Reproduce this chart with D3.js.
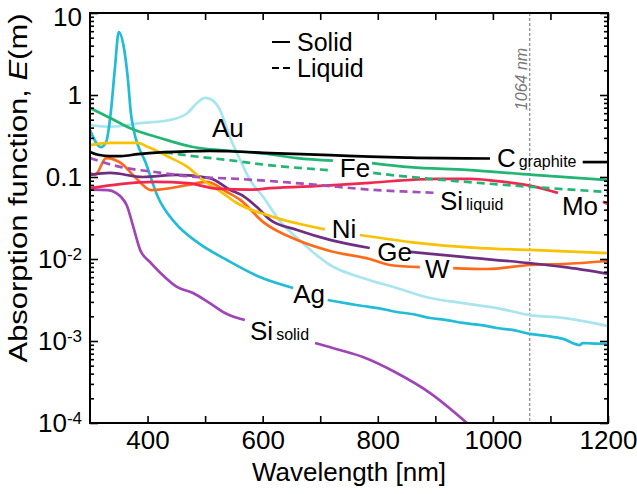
<!DOCTYPE html>
<html><head><meta charset="utf-8">
<script src="https://cdn.jsdelivr.net/npm/d3@7"></script>
<style>
body{margin:0;background:#fff}
text{font-family:"Liberation Sans",Arial,Helvetica,sans-serif}
</style>
</head><body>
<svg id="c" width="637" height="494"></svg>
<script>
// ---------- data (wavelength nm, E(m)) ----------
const xTickValues = [400,500,600,700,800,900,1000,1100,1200];
const xTickLabels = [400,600,800,1000,1200];
const yDecades = [1e-4,1e-3,1e-2,1e-1,1,10];
const yTickLabels = [["10","-4"],["10","-3"],["10","-2"],["0.1",""],["1",""],["10",""]];
const laserWavelength = 1064;

const ag = [[300,0.374],[319,0.232],[328,0.267],[336,0.60],[343,2.02],[350,5.86],[359,3.74],[366,1.52],[371,0.60],[376,0.374],[397,0.148],[418,0.057],[448,0.0275],[488,0.0157],[538,0.00972],[595,0.00603],[653,0.00443],[713,0.00316],[774,0.00267],[800,0.00252],[833,0.00226],[862,0.00212],[891,0.00191],[920,0.00180],[948,0.00166],[980,0.00156],[1007,0.00144],[1040,0.00134],[1064,0.00122],[1095,0.00115],[1122,0.00106],[1151,0.000893],[1156,0.000946],[1180,0.000930],[1200,0.000919]];
const au = [[300,0.43],[335,0.41],[392,0.456],[439,0.496],[469,0.60],[486,0.80],[500,0.92],[512,0.87],[526,0.656],[543,0.308],[561,0.161],[578,0.092],[601,0.057],[630,0.029],[660,0.018],[687,0.0122],[717,0.00845],[774,0.00586],[833,0.00443],[891,0.00334],[948,0.0029],[1007,0.00252],[1064,0.00207],[1122,0.00191],[1200,0.00152]];
const feSolid = [[300,0.693],[335,0.525],[369,0.397],[422,0.299],[479,0.232],[538,0.210],[601,0.194],[660,0.170],[722,0.158],[790,0.148],[856,0.132],[955,0.122],[1070,0.106],[1200,0.0918]];
const feLiquid = [[430,0.20],[470,0.183],[543,0.160],[601,0.142],[717,0.121],[792,0.112],[856,0.100],[955,0.087],[1070,0.0755],[1200,0.0656]];
const cGraphite = [[300,0.202],[314,0.187],[335,0.180],[354,0.180],[383,0.190],[422,0.200],[470,0.205],[508,0.208],[543,0.206],[613,0.196],[717,0.185],[786,0.177],[856,0.172],[995,0.168],[1156,0.152],[1200,0.152]];
const siLiquid = [[300,0.170],[354,0.132],[413,0.115],[470,0.102],[555,0.095],[670,0.083],[729,0.076],[786,0.070],[856,0.066],[903,0.064]];
const mo = [[300,0.073],[352,0.082],[413,0.087],[470,0.084],[520,0.072],[578,0.070],[613,0.073],[717,0.079],[786,0.085],[903,0.095],[960,0.095],[1020,0.087],[1070,0.077],[1113,0.064],[1191,0.050],[1200,0.047]];
const ni = [[300,0.245],[335,0.26],[382,0.26],[401,0.232],[441,0.17],[470,0.132],[496,0.0918],[528,0.0656],[555,0.0482],[613,0.0334],[708,0.023],[769,0.0196],[856,0.0161],[978,0.0136],[1064,0.0129],[1200,0.0118]];
const ge = [[300,0.106],[335,0.112],[392,0.100],[451,0.106],[508,0.097],[543,0.070],[569,0.057],[590,0.043],[613,0.030],[660,0.0226],[717,0.0171],[786,0.0136],[856,0.0122],[948,0.0106],[1064,0.0089],[1122,0.0080],[1200,0.0066]];
const w = [[300,0.112],[309,0.106],[328,0.170],[354,0.148],[378,0.100],[406,0.0693],[441,0.0734],[470,0.080],[503,0.087],[538,0.0656],[561,0.0525],[601,0.0282],[660,0.0170],[717,0.0125],[786,0.0100],[821,0.00845],[873,0.00798],[931,0.00776],[990,0.00755],[1064,0.00845],[1122,0.00869],[1200,0.00946]];
const siSolid = [[300,0.070],[331,0.069],[345,0.064],[354,0.057],[364,0.045],[375,0.025],[387,0.013],[404,0.0092],[422,0.0068],[451,0.00456],[479,0.00385],[508,0.0029],[538,0.00213],[569,0.0018],[691,0.000946],[734,0.000777],[774,0.000638],[833,0.000407],[891,0.000232],[955,0.0001]];

// series styling / label gaps (wavelength range hidden behind the label)
const series = [
  {data: au, color:"#a9e5ef", dash:null, gap:null},
  {data: ag, color:"#22bcd6", dash:null, gap:[653,713]},
  {data: siSolid, color:"#a045b6", dash:null, gap:[569,691]},
  {data: w, color:"#ff6a18", dash:null, gap:[873,931]},
  {data: ge, color:"#6e2f82", dash:null, gap:[786,856]},
  {data: ni, color:"#f8c200", dash:null, gap:[708,769]},
  {data: mo, color:"#f0284f", dash:null, gap:[1113,1191]},
  {data: siLiquid, color:"#a64fbc", dash:"8,5", gap:null},
  {data: feLiquid, color:"#22b573", dash:"8,5", gap:[717,792]},
  {data: feSolid, color:"#22b573", dash:null, gap:[722,786]},
  {data: cGraphite, color:"#000000", dash:null, gap:[995,1156]}
];

// curve labels: left/baseline anchor in data coordinates
const labels = [
  {text:"Au", sub:"", wl:512, val:0.308},
  {text:"Fe", sub:"", wl:734, val:0.100},
  {text:"C", sub:"graphite", wl:1007, val:0.1324},
  {text:"Si", sub:"liquid", wl:908, val:0.0396},
  {text:"Mo", sub:"", wl:1120, val:0.0344},
  {text:"Ni", sub:"", wl:720, val:0.0180},
  {text:"Ge", sub:"", wl:799, val:0.00946},
  {text:"W", sub:"", wl:882, val:0.00586},
  {text:"Ag", sub:"", wl:653, val:0.0029},
  {text:"Si", sub:"solid", wl:578, val:0.00103}
];

// ---------- drawing ----------
const svg = d3.select("#c");
const L = 90, R = 608, T = 13, B = 423;
const x = d3.scaleLinear().domain([300,1200]).range([L,R]);
const y = d3.scaleLog().domain([1e-4,10]).range([B,T]);

svg.append("clipPath").attr("id","clip").append("rect")
  .attr("x",L).attr("y",T).attr("width",R-L).attr("height",B-T);

// 1064 nm marker
svg.append("line").attr("x1",x(laserWavelength)).attr("x2",x(laserWavelength))
  .attr("y1",T).attr("y2",B).attr("stroke","#888").attr("stroke-width",1.2)
  .attr("stroke-dasharray","3,2");
svg.append("text").attr("transform",`translate(${x(laserWavelength)-3},79) rotate(-90)`)
  .attr("text-anchor","middle").attr("fill","#777")
  .style("font-style","italic").style("font-size","16px").text("1064 nm");

// curves
const line = d3.line().x(d=>x(d[0])).y(d=>y(d[1])).curve(d3.curveMonotoneX);
const plot = svg.append("g").attr("clip-path","url(#clip)");
series.forEach(s=>{
  const segs = s.gap ? [s.data.filter(d=>d[0]<=s.gap[0]), s.data.filter(d=>d[0]>=s.gap[1])] : [s.data];
  segs.forEach(seg=>{
    plot.append("path").datum(seg).attr("d",line).attr("fill","none")
      .attr("stroke",s.color).attr("stroke-width",2.7)
      .attr("stroke-dasharray",s.dash).attr("stroke-linejoin","round");
  });
});

// curve labels
labels.forEach(l=>{
  const t = svg.append("text").attr("x",x(l.wl)).attr("y",y(l.val))
    .style("font-size","26px").attr("fill","#000").text(l.text);
  if(l.sub) t.append("tspan").attr("dx",3).style("font-size","16px").text(l.sub);
});

// axes
const tickStyle = g=>{ g.select(".domain").remove(); g.selectAll("line").attr("stroke","#000").attr("stroke-width",1.6); };
svg.append("g").attr("transform",`translate(0,${B})`)
  .call(d3.axisBottom(x).tickValues(xTickValues).tickSizeInner(-7).tickSizeOuter(0).tickPadding(8)
    .tickFormat(d=>xTickLabels.includes(d)?d:""))
  .call(tickStyle)
  .call(g=>g.selectAll("text").style("font-size","26px").attr("fill","#000").style("font-family",'"Liberation Sans",Arial,sans-serif'));
svg.append("g").attr("transform",`translate(0,${T})`)
  .call(d3.axisTop(x).tickValues(xTickValues).tickSizeInner(-7).tickSizeOuter(0).tickFormat(""))
  .call(tickStyle);

const minors = [];
for(let e=-4;e<1;e++) for(let k=2;k<=9;k++) minors.push(k*Math.pow(10,e));
[[d3.axisLeft, L],[d3.axisRight, R]].forEach(([ax,pos])=>{
  svg.append("g").attr("transform",`translate(${pos},0)`)
    .call(ax(y).tickValues(yDecades).tickSizeInner(-8).tickSizeOuter(0).tickFormat("")).call(tickStyle);
  svg.append("g").attr("transform",`translate(${pos},0)`)
    .call(ax(y).tickValues(minors).tickSizeInner(-4).tickSizeOuter(0).tickFormat("")).call(tickStyle);
});

// y tick labels
yDecades.forEach((d,i)=>{
  const [base,sup] = yTickLabels[i];
  const yy = y(d) + (d===10 ? 4 : 0);
  const t = svg.append("text").attr("x",L-8).attr("y",yy).attr("dy","0.35em")
    .attr("text-anchor","end").style("font-size","26px").text(base);
  if(sup) t.append("tspan").attr("dy","-0.5em").style("font-size","17px").text(sup);
});

// frame
svg.append("rect").attr("x",L).attr("y",T).attr("width",R-L).attr("height",B-T)
  .attr("fill","none").attr("stroke","#000").attr("stroke-width",2);

// axis titles
svg.append("text").attr("x",(L+R)/2).attr("y",481).attr("text-anchor","middle")
  .style("font-size","26px").text("Wavelength [nm]");
const yt = svg.append("text").attr("transform","translate(27,188) rotate(-90)")
  .attr("text-anchor","middle").style("font-size","26px")
  .attr("textLength",349).attr("lengthAdjust","spacingAndGlyphs");
yt.append("tspan").text("Absorption function, ");
yt.append("tspan").style("font-style","italic").text("E");
yt.append("tspan").text("(m)");

// legend
const lg = svg.append("g");
lg.append("line").attr("x1",272).attr("x2",290).attr("y1",42).attr("y2",42).attr("stroke","#000").attr("stroke-width",2);
lg.append("line").attr("x1",272).attr("x2",290).attr("y1",68).attr("y2",68).attr("stroke","#000").attr("stroke-width",2).attr("stroke-dasharray","7,4");
lg.append("text").attr("x",297).attr("y",42).attr("dy","0.35em").style("font-size","25px").text("Solid");
lg.append("text").attr("x",297).attr("y",68).attr("dy","0.35em").style("font-size","25px").text("Liquid");
</script>
</body></html>
